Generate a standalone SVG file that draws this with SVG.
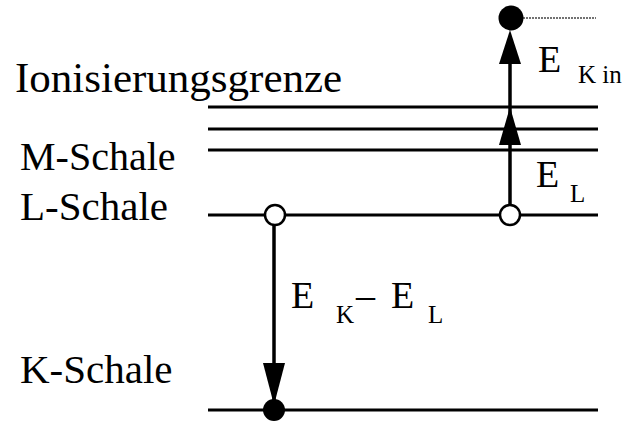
<svg xmlns="http://www.w3.org/2000/svg" width="626" height="423" viewBox="0 0 626 423">
<rect width="626" height="423" fill="#fff"/>
<g id="labels">
<text x="15" y="92" style="font-family:'Liberation Serif',serif;font-size:43px;fill:#000">Ionisierungsgrenze</text>
<text x="20" y="170" style="font-family:'Liberation Serif',serif;font-size:40px;fill:#000">M-Schale</text>
<text x="20" y="220" style="font-family:'Liberation Serif',serif;font-size:41px;fill:#000">L-Schale</text>
<text x="20" y="383" style="font-family:'Liberation Serif',serif;font-size:41px;fill:#000">K-Schale</text>
</g>
<g id="levels" stroke="#000" stroke-width="3">
<line x1="208" y1="107" x2="598" y2="107"/>
<line x1="208" y1="129" x2="598" y2="129"/>
<line x1="208" y1="150" x2="598" y2="150"/>
<line x1="208" y1="215" x2="598" y2="215"/>
<line x1="208" y1="410" x2="598" y2="410"/>
</g>
<g id="connectors">
<line x1="274" y1="225" x2="274" y2="400" stroke="#000" stroke-width="3.5"/>
<polygon points="263,363 285,363 274,405" fill="#000"/>
<line x1="510" y1="205" x2="510" y2="40" stroke="#000" stroke-width="3.5"/>
<polygon points="499,145 521,145 510,107" fill="#000"/>
<polygon points="499,64 521,64 510,30" fill="#000"/>
<line x1="523" y1="18" x2="596" y2="18" stroke="#444" stroke-width="1.3" stroke-dasharray="2 1"/>
</g>
<g id="electron-K">
<circle cx="274" cy="410" r="11" fill="#000"/>
</g>
<g id="hole-L-left">
<circle cx="275" cy="215" r="10" fill="#fff" stroke="#000" stroke-width="2.5"/>
</g>
<g id="hole-L-right">
<circle cx="510" cy="215" r="10" fill="#fff" stroke="#000" stroke-width="2.5"/>
</g>
<g id="electron-free">
<circle cx="511" cy="18" r="12.5" fill="#000"/>
</g>
<g id="energy-labels">
<text x="291" y="308" style="font-family:'Liberation Serif',serif;font-size:38px;fill:#000">E</text>
<text x="336" y="323" style="font-family:'Liberation Serif',serif;font-size:25px;fill:#000">K</text>
<text x="356" y="308" style="font-family:'Liberation Serif',serif;font-size:38px;fill:#000">–</text>
<text x="391" y="308" style="font-family:'Liberation Serif',serif;font-size:38px;fill:#000">E</text>
<text x="428" y="323" style="font-family:'Liberation Serif',serif;font-size:25px;fill:#000">L</text>
<text x="536" y="187" style="font-family:'Liberation Serif',serif;font-size:38px;fill:#000">E</text>
<text x="570" y="202" style="font-family:'Liberation Serif',serif;font-size:25px;fill:#000">L</text>
<text x="538" y="72" style="font-family:'Liberation Serif',serif;font-size:38px;fill:#000">E</text>
<text x="578" y="83" style="font-family:'Liberation Serif',serif;font-size:25px;fill:#000">K in</text>
</g>
</svg>
